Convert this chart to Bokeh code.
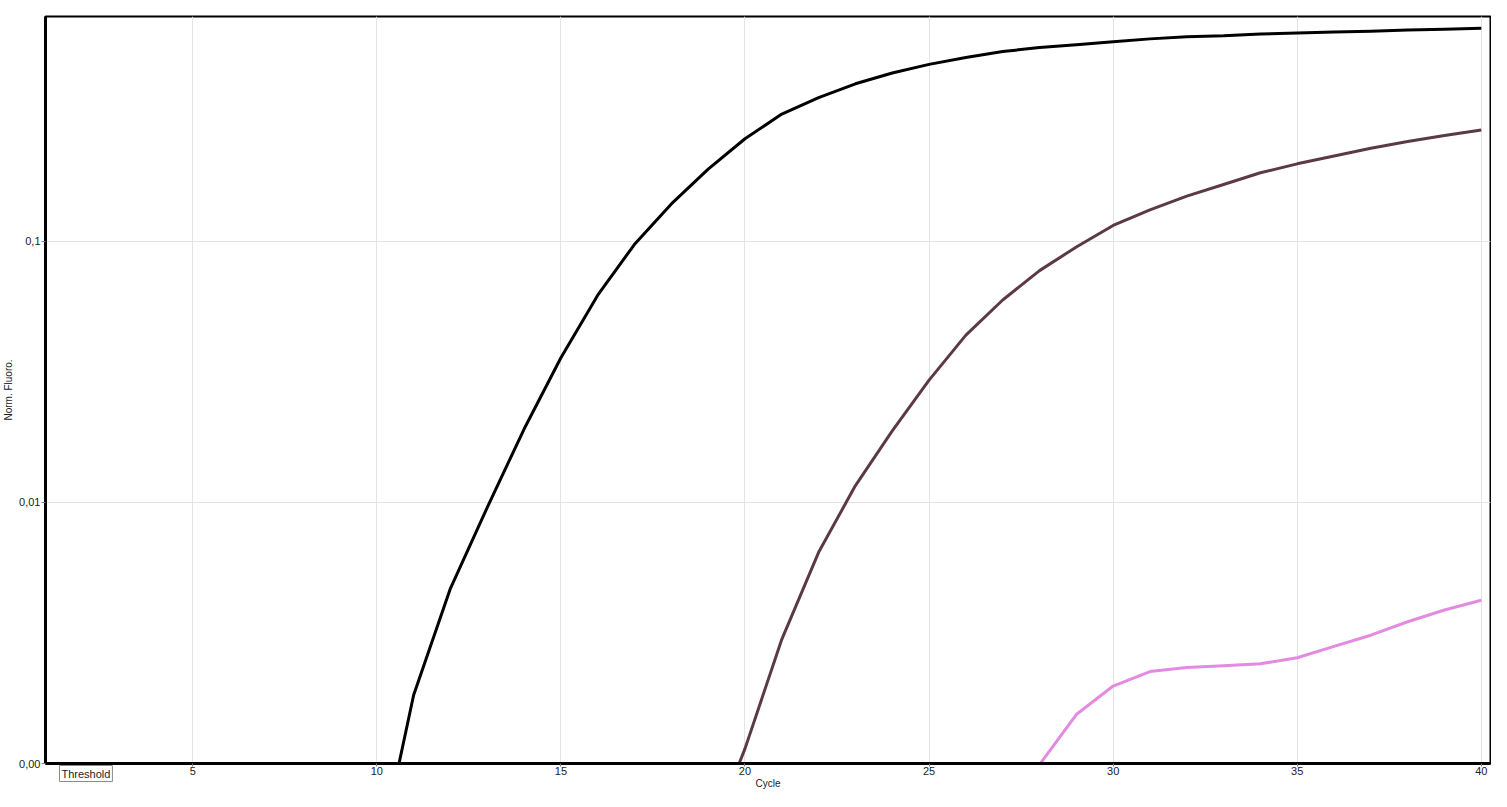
from bokeh.plotting import figure
from bokeh.models import FixedTicker, Label, Range1d
from bokeh.embed import file_html
from bokeh.resources import INLINE

cycles = list(range(1, 41))

# Norm. Fluoro. per cycle (sub-threshold baseline values lie below the axis)
sample_black = [0.0002, 0.0002, 0.0002, 0.0002, 0.0002, 0.0002, 0.0002, 0.0002, 0.0002, 0.0004,
                0.00183, 0.00469, 0.00957, 0.0191, 0.0358, 0.0622, 0.0974, 0.139, 0.189, 0.247,
                0.307, 0.355, 0.401, 0.441, 0.476, 0.506, 0.533, 0.552, 0.566, 0.581,
                0.596, 0.607, 0.612, 0.622, 0.627, 0.633, 0.638, 0.644, 0.649, 0.655]
sample_maroon = [0.0002, 0.0002, 0.0002, 0.0002, 0.0002, 0.0002, 0.0002, 0.0002, 0.0002, 0.0002,
                 0.0002, 0.0002, 0.0002, 0.0002, 0.0002, 0.0002, 0.0002, 0.0002, 0.0005, 0.00114,
                 0.00299, 0.00644, 0.0116, 0.0188, 0.0294, 0.0437, 0.0596, 0.0772, 0.0951, 0.115,
                 0.132, 0.149, 0.165, 0.183, 0.198, 0.212, 0.227, 0.241, 0.254, 0.267]
sample_pink = [0.0002, 0.0002, 0.0002, 0.0002, 0.0002, 0.0002, 0.0002, 0.0002, 0.0002, 0.0002,
               0.0002, 0.0002, 0.0002, 0.0002, 0.0002, 0.0002, 0.0002, 0.0002, 0.0002, 0.0002,
               0.0002, 0.0002, 0.0002, 0.0002, 0.0002, 0.0002, 0.0002, 0.00099, 0.00154, 0.00198,
               0.00225, 0.00233, 0.00237, 0.00241, 0.00254, 0.00281, 0.00310, 0.00349, 0.00387, 0.00422]

x_ticks = [5, 10, 15, 20, 25, 30, 35, 40]
y_ticks = [0.001, 0.01, 0.1]
y_tick_labels = {0.001: "0,00", 0.01: "0,01", 0.1: "0,1"}
threshold = 0.001

FONT = "Liberation Sans"

p = figure(width=1491, height=791, y_axis_type="log",
           x_range=Range1d(1.0, 40.25), y_range=Range1d(0.001, 0.726),
           output_backend="svg", toolbar_location=None,
           min_border_left=0, min_border_right=1, min_border_top=7, min_border_bottom=0)

p.outline_line_color = "black"
p.outline_line_width = 2
p.background_fill_color = "white"
p.border_fill_color = "white"

for ax in (p.xaxis[0], p.yaxis[0]):
    ax.axis_line_color = "black"
    ax.axis_line_width = 3
    ax.major_tick_line_color = "#7a7a7a"
    ax.major_tick_in = 0
    ax.major_tick_out = 4
    ax.minor_tick_line_color = None
    ax.major_label_text_font = FONT
    ax.major_label_text_font_size = "11px"
    ax.major_label_text_color = "#222222"
    ax.major_label_standoff = 1
    ax.axis_label_text_font = FONT
    ax.axis_label_text_font_size = "10px"
    ax.axis_label_text_font_style = "normal"
    ax.axis_label_text_color = "#222222"
    ax.axis_label_standoff = 2

p.xaxis[0].major_tick_out = 3
p.xaxis[0].major_label_standoff = 0
p.xaxis[0].axis_label_standoff = 0

p.xaxis[0].ticker = FixedTicker(ticks=x_ticks)
p.yaxis[0].ticker = FixedTicker(ticks=y_ticks)
p.yaxis[0].major_label_overrides = y_tick_labels
p.xaxis[0].axis_label = "Cycle"
p.yaxis[0].axis_label = "Norm. Fluoro."

p.xgrid.grid_line_color = "#e4e4e4"
p.ygrid.grid_line_color = "#e4e4e4"
p.xgrid.grid_line_width = 1
p.ygrid.grid_line_width = 1

p.line(cycles, sample_pink, line_color="#e28be0", line_width=3, line_join="round")
p.line(cycles, sample_maroon, line_color="#5c3a44", line_width=3, line_join="round")
p.line(cycles, sample_black, line_color="#000000", line_width=3, line_join="round")

# placed in a side panel so it is not clipped to the frame; positioned in data space
threshold_label = Label(x=1.38, y=threshold, y_offset=-2,
                        text="Threshold", text_baseline="top", text_line_height=1.0,
                        text_font=FONT, text_font_size="11px", text_color="#222222",
                        border_line_color="#8a8a8a", border_line_width=1,
                        background_fill_color="white", padding=2)
p.add_layout(threshold_label, "above")

open("out.html", "w").write(file_html(p, INLINE))
